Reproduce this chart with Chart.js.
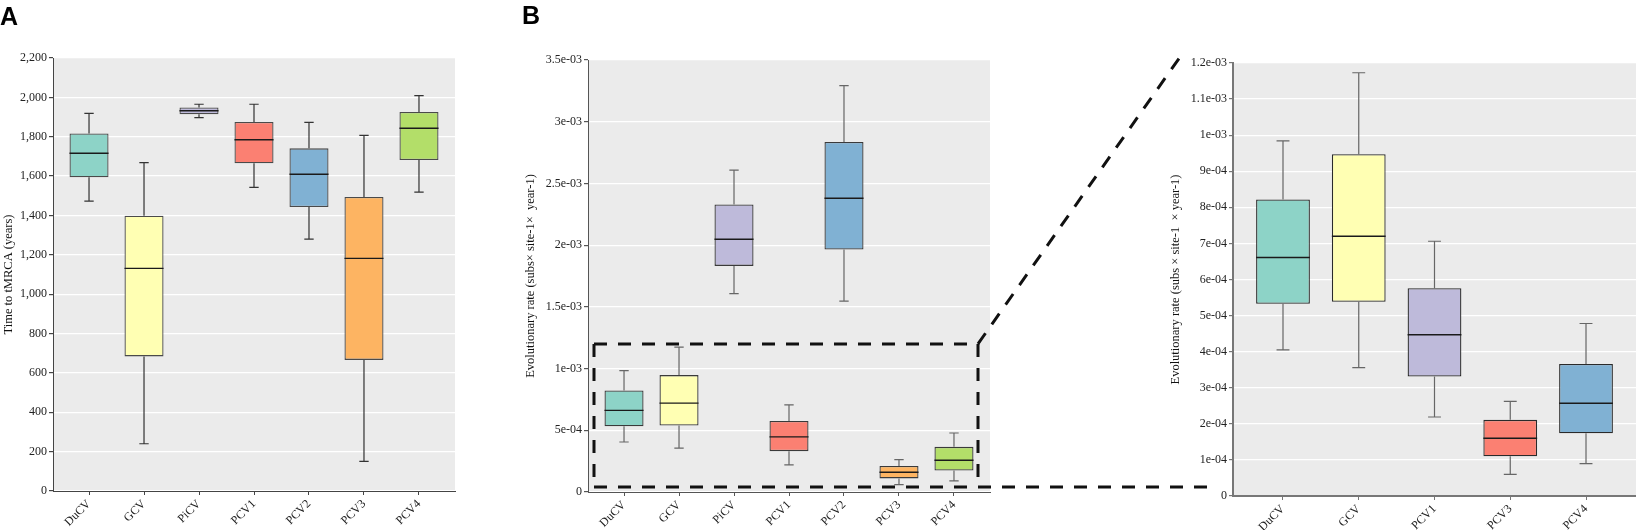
<!DOCTYPE html>
<html>
<head>
<meta charset="utf-8">
<script src="https://cdn.jsdelivr.net/npm/chart.js@4.4.1/dist/chart.umd.min.js"></script>
<style>
html,body{margin:0;padding:0;background:#fff;}
#wrap{position:relative;width:1636px;height:530px;overflow:hidden;background:#fff;}
.panel{position:absolute;top:0;}
.lbl{position:absolute;font-family:'Liberation Sans',Arial,sans-serif;font-weight:bold;font-size:25px;line-height:25px;color:#000;}
#overlay{position:absolute;left:0;top:0;pointer-events:none;}
</style>
</head>
<body>
<div id="wrap">
  <canvas id="cA" class="panel" width="465" height="530" style="left:0px"></canvas>
  <canvas id="cB" class="panel" width="478" height="530" style="left:522px"></canvas>
  <canvas id="cC" class="panel" width="469" height="530" style="left:1167px"></canvas>
  <canvas id="overlay" width="1636" height="530"></canvas>
  <div class="lbl" style="left:0px;top:4px">A</div>
  <div class="lbl" style="left:522px;top:3px">B</div>
</div>
<script>
// ---------------- DATA ----------------
// Panel A: time to tMRCA (years)
const timeCategories = ['DuCV', 'GCV', 'PiCV', 'PCV1', 'PCV2', 'PCV3', 'PCV4'];
const timeLow    = [1473, 240, 1897, 1543, 1280, 151, 1519];
const timeQ1     = [1594, 684, 1914, 1665, 1443, 666, 1682];
const timeMedian = [1716, 1131, 1932, 1785, 1609, 1182, 1843];
const timeQ3     = [1817, 1399, 1949, 1875, 1741, 1494, 1926];
const timeHigh   = [1919, 1668, 1965, 1965, 1873, 1807, 2009];
const timeTickValues = [0, 200, 400, 600, 800, 1000, 1200, 1400, 1600, 1800, 2000, 2200];
const timeTickLabels = ['0', '200', '400', '600', '800', '1,000', '1,200', '1,400', '1,600', '1,800', '2,000', '2,200'];

// Panel B: evolutionary rate
const rateCategories = ['DuCV', 'GCV', 'PiCV', 'PCV1', 'PCV2', 'PCV3', 'PCV4'];
const rateLow    = [4.05e-4, 3.56e-4, 1.608e-3, 2.19e-4, 1.546e-3, 0.60e-4, 0.90e-4];
const rateQ1     = [5.33e-4, 5.38e-4, 1.832e-3, 3.31e-4, 1.964e-3, 1.10e-4, 1.74e-4];
const rateMedian = [6.61e-4, 7.20e-4, 2.048e-3, 4.47e-4, 2.380e-3, 1.60e-4, 2.57e-4];
const rateQ3     = [8.22e-4, 9.47e-4, 2.329e-3, 5.76e-4, 2.836e-3, 2.11e-4, 3.66e-4];
const rateHigh   = [9.84e-4, 1.173e-3, 2.607e-3, 7.06e-4, 3.292e-3, 2.62e-4, 4.78e-4];
const rateTickValues = [0, 5e-4, 1e-3, 1.5e-3, 2e-3, 2.5e-3, 3e-3, 3.5e-3];
const rateTickLabels = ['0', '5e-04', '1e-03', '1.5e-03', '2e-03', '2.5e-03', '3e-03', '3.5e-03'];

// Zoomed panel (subset of panel B)
const zoomCategories = ['DuCV', 'GCV', 'PCV1', 'PCV3', 'PCV4'];
const zoomTickValues = [0, 1e-4, 2e-4, 3e-4, 4e-4, 5e-4, 6e-4, 7e-4, 8e-4, 9e-4, 1e-3, 1.1e-3, 1.2e-3];
const zoomTickLabels = ['0', '1e-04', '2e-04', '3e-04', '4e-04', '5e-04', '6e-04', '7e-04', '8e-04', '9e-04', '1e-03', '1.1e-03', '1.2e-03'];
const zoomWindowLow = 4e-5;

const palette = ['#8DD3C7', '#FFFFB3', '#BEBADA', '#FB8072', '#80B1D3', '#FDB462', '#B3DE69'];

// ---------------- HELPERS ----------------
const pick = (arr) => zoomCategories.map(c => arr[rateCategories.indexOf(c)]);

Chart.defaults.font.family = "'Liberation Serif', 'Times New Roman', serif";
Chart.defaults.font.size = 12;
Chart.defaults.color = '#222';

const bgPlugin = {
  id: 'grayBg',
  beforeDraw(chart) {
    const {ctx, chartArea: a} = chart;
    ctx.save();
    ctx.fillStyle = '#EBEBEB';
    ctx.fillRect(a.left, a.top, a.right - a.left, a.bottom - a.top);
    ctx.restore();
  }
};

const whiskerPlugin = {
  id: 'whiskers',
  afterDatasetsDraw(chart, args, opts) {
    const {ctx} = chart;
    const xs = chart.scales.x, ys = chart.scales.y;
    const meta = chart.getDatasetMeta(0);
    ctx.save();
    opts.low.forEach((lo, i) => {
      const bar = meta.data[i];
      const x = xs.getPixelForValue(i);
      const w = bar.width;
      const cap = w * opts.capRatio / 2;
      const yLo = ys.getPixelForValue(lo), yQ1 = ys.getPixelForValue(opts.q1[i]);
      const yQ3 = ys.getPixelForValue(opts.q3[i]), yHi = ys.getPixelForValue(opts.high[i]);
      const yMed = ys.getPixelForValue(opts.median[i]);
      ctx.strokeStyle = opts.whiskerColor;
      ctx.lineWidth = opts.whiskerWidth;
      ctx.beginPath();
      ctx.moveTo(x, yHi); ctx.lineTo(x, yQ3);
      ctx.moveTo(x, yQ1); ctx.lineTo(x, yLo);
      ctx.moveTo(x - cap, yHi); ctx.lineTo(x + cap, yHi);
      ctx.moveTo(x - cap, yLo); ctx.lineTo(x + cap, yLo);
      ctx.stroke();
      ctx.strokeStyle = opts.medianColor;
      ctx.lineWidth = opts.medianWidth;
      ctx.beginPath();
      ctx.moveTo(x - w / 2, yMed); ctx.lineTo(x + w / 2, yMed);
      ctx.stroke();
    });
    ctx.restore();
  }
};

const zoomRectPlugin = {
  id: 'zoomRect',
  afterDraw(chart, args, opts) {
    if (!opts || !opts.enabled) return;
    const {ctx, chartArea: a} = chart;
    const ys = chart.scales.y;
    const left = a.left + 6, right = a.right - 12;
    const top = ys.getPixelForValue(opts.high);
    const bottom = ys.getPixelForValue(opts.low);
    ctx.save();
    ctx.strokeStyle = '#111';
    ctx.lineWidth = 3;
    ctx.setLineDash([13, 11]);
    ctx.beginPath();
    ctx.moveTo(left, top); ctx.lineTo(right, top);
    ctx.moveTo(right, top); ctx.lineTo(right, bottom);
    ctx.moveTo(left, bottom); ctx.lineTo(right, bottom);
    ctx.moveTo(left, top); ctx.lineTo(left, bottom);
    ctx.stroke();
    ctx.restore();
    chart.$zoomRect = {left, right, top, bottom};
  }
};

function makeBoxChart(id, cfg) {
  const n = cfg.categories.length;
  return new Chart(document.getElementById(id), {
    type: 'bar',
    data: {
      datasets: [{
        data: cfg.categories.map((c, i) => ({x: i, y: [cfg.q1[i], cfg.q3[i]]})),
        backgroundColor: cfg.categories.map((c, i) => palette[i]),
        borderColor: cfg.boxBorder,
        borderWidth: cfg.boxBorderWidth,
        borderSkipped: false,
        categoryPercentage: 0.71,
        barPercentage: 1
      }]
    },
    options: {
      responsive: false,
      animation: false,
      devicePixelRatio: 1,
      layout: {padding: {top: cfg.top, right: cfg.right, left: 0, bottom: 0}},
      plugins: {
        legend: {display: false},
        tooltip: {enabled: false},
        whiskers: {
          low: cfg.low, q1: cfg.q1, median: cfg.median, q3: cfg.q3, high: cfg.high,
          capRatio: 0.24, whiskerColor: cfg.whiskerColor, whiskerWidth: 1.2,
          medianColor: '#1a1a1a', medianWidth: 1.4
        },
        zoomRect: cfg.zoomRect || {enabled: false}
      },
      scales: {
        x: {
          type: 'linear',
          min: -cfg.edge,
          max: n - 1 + cfg.edgeRight,
          offset: false,
          afterBuildTicks: s => { s.ticks = cfg.categories.map((c, i) => ({value: i})); },
          afterFit: s => { s.height = cfg.xHeight; },
          ticks: {
            minRotation: 45, maxRotation: 45, autoSkip: false, padding: 2,
            font: {size: 12},
            callback: (v, i) => cfg.categories[i]
          },
          grid: {display: true, drawOnChartArea: false, offset: false, tickColor: cfg.axisColor, tickLength: 4},
          border: {display: true, color: cfg.axisColor, width: cfg.axisWidth}
        },
        y: {
          type: 'linear',
          min: cfg.tickValues[0],
          max: cfg.tickValues[cfg.tickValues.length - 1],
          afterBuildTicks: s => { s.ticks = cfg.tickValues.map(v => ({value: v})); },
          afterFit: s => { s.width = cfg.yWidth; },
          ticks: {padding: 2, font: {size: 12}, callback: (v, i) => cfg.tickLabels[i]},
          grid: {color: '#FFFFFF', lineWidth: 1.2, tickColor: cfg.axisColor, tickLength: 4},
          border: {display: true, color: cfg.axisColor, width: cfg.axisWidth},
          title: {display: true, text: cfg.title, font: {size: 12.5}, color: '#111', padding: {top: 1, bottom: 1}}
        }
      }
    },
    plugins: [bgPlugin, whiskerPlugin, zoomRectPlugin]
  });
}

const chartA = makeBoxChart('cA', {
  categories: timeCategories, low: timeLow, q1: timeQ1, median: timeMedian, q3: timeQ3, high: timeHigh,
  tickValues: timeTickValues, tickLabels: timeTickLabels, title: 'Time to tMRCA (years)',
  top: 58, right: 10, yWidth: 53, xHeight: 39, edge: 0.655, edgeRight: 0.655,
  boxBorder: '#4a4a4a', boxBorderWidth: 1.3, whiskerColor: '#333', axisColor: '#444', axisWidth: 1
});

const chartB = makeBoxChart('cB', {
  categories: rateCategories, low: rateLow, q1: rateQ1, median: rateMedian, q3: rateQ3, high: rateHigh,
  tickValues: rateTickValues, tickLabels: rateTickLabels,
  title: 'Evolutionary rate (subs\u00d7 site-1\u00d7  year-1)',
  top: 60, right: 10, yWidth: 66, xHeight: 38, edge: 0.655, edgeRight: 0.655,
  boxBorder: '#3a3a3a', boxBorderWidth: 1.3, whiskerColor: '#666', axisColor: '#555', axisWidth: 1,
  zoomRect: {enabled: true, low: zoomWindowLow, high: zoomTickValues[zoomTickValues.length - 1]}
});

const chartC = makeBoxChart('cC', {
  categories: zoomCategories, low: pick(rateLow), q1: pick(rateQ1), median: pick(rateMedian), q3: pick(rateQ3), high: pick(rateHigh),
  tickValues: zoomTickValues, tickLabels: zoomTickLabels,
  title: 'Evolutionary rate (subs \u00d7 site-1  \u00d7 year-1)',
  top: 63, right: 0, yWidth: 66, xHeight: 34, edge: 0.66, edgeRight: 0.66,
  boxBorder: '#2a2a2a', boxBorderWidth: 1.3, whiskerColor: '#666', axisColor: '#777', axisWidth: 2
});

// Connector lines from zoom window in B to panel C
(function drawConnectors() {
  const ov = document.getElementById('overlay');
  const ctx = ov.getContext('2d');
  const bOff = parseFloat(document.getElementById('cB').style.left);
  const cOff = parseFloat(document.getElementById('cC').style.left);
  const r = chartB.$zoomRect;
  if (!r) return;
  const ca = chartC.chartArea;
  ctx.strokeStyle = '#111';
  ctx.lineWidth = 3;
  ctx.setLineDash([13, 11]);
  ctx.beginPath();
  ctx.moveTo(bOff + r.right, r.top);
  ctx.lineTo(cOff + ca.left - 53, ca.top - 6);
  ctx.stroke();
  ctx.beginPath();
  ctx.moveTo(bOff + r.right, r.bottom);
  ctx.lineTo(cOff + ca.left - 26, r.bottom);
  ctx.stroke();
})();
</script>
</body>
</html>
